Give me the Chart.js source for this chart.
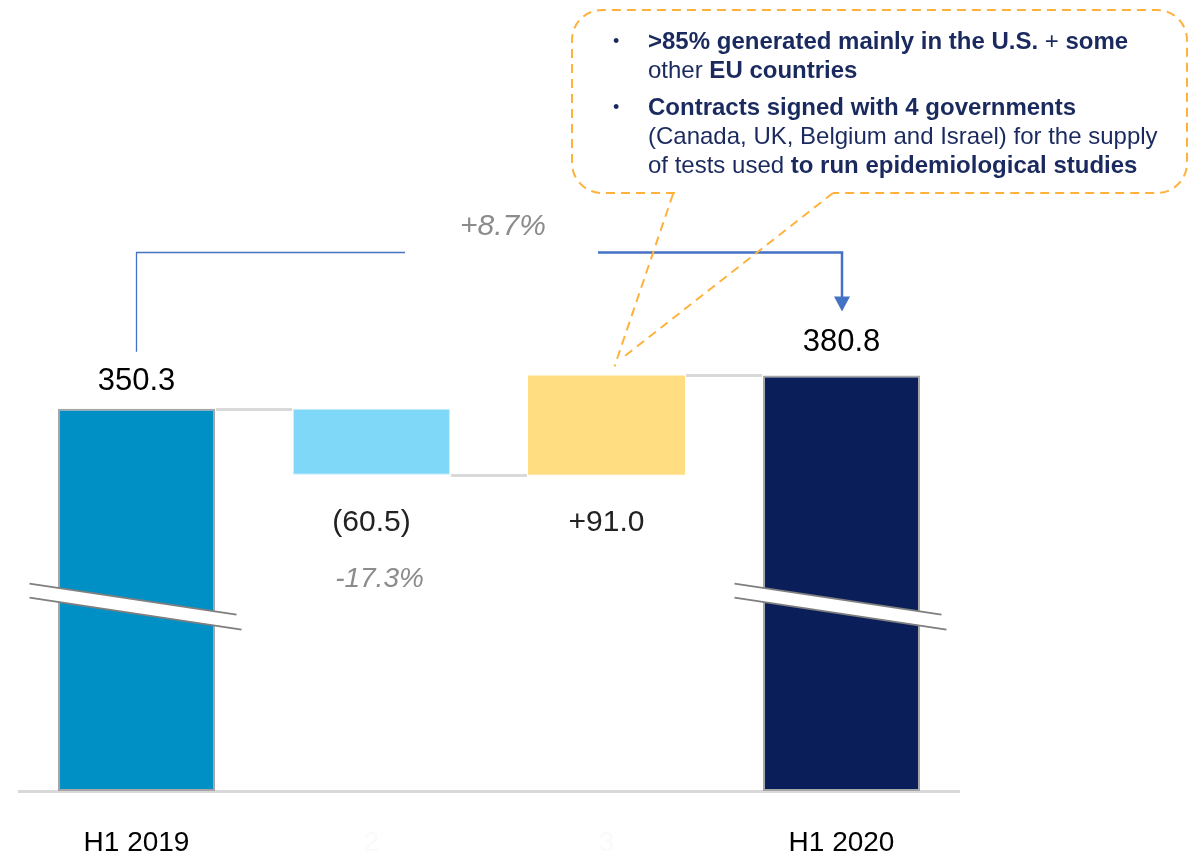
<!DOCTYPE html>
<html>
<head>
<meta charset="utf-8">
<script src="https://cdn.jsdelivr.net/npm/chart.js@4"></script>
<style>
  html, body { margin: 0; padding: 0; background: #fff; }
  canvas { display: block; }
</style>
</head>
<body>
<canvas id="waterfall" width="1191" height="859"></canvas>
<script>
// chart data
const categories = ['H1 2019', '2', '3', 'H1 2020'];
const startValue = 350.3;
const changes = [-60.5, 91.0];
const endValue = 380.8;
const valueLabels = ['350.3', '(60.5)', '+91.0', '380.8'];
const changePct = '-17.3%';
const totalPct = '+8.7%';
const barColors = ['#0090C6', '#80D8F8', '#FFDD80', '#0A1F5A'];
const borderColors = ['#A6A6A6', '#C8EEFB', '#FFDD80', '#A6A6A6'];

const FONT = "'Liberation Sans', Arial, sans-serif";
const NAVY = '#1A2A5E';
const ORANGE = '#FFB13B';
const BLUE = '#4472C4';

// floating ranges for the waterfall + connector levels
const ranges = [[0, startValue]];
const levels = [startValue];
let running = startValue;
changes.forEach(c => {
  const next = running + c;
  ranges.push([Math.min(running, next), Math.max(running, next)]);
  running = next;
  levels.push(running);
});
ranges.push([0, endValue]);

const callout = [
  { bullet: true, runs: [['b', '>85% generated mainly in the U.S.'], ['n', ' + '], ['b', 'some']] },
  { runs: [['n', 'other '], ['b', 'EU countries']] },
  { bullet: true, runs: [['b', 'Contracts signed with 4 governments']] },
  { runs: [['n', '(Canada, UK, Belgium and Israel) for the supply']] },
  { runs: [['n', 'of tests used '], ['b', 'to run epidemiological studies']] },
];
const calloutY = [42, 71, 108, 137, 166];

function text(ctx, str, x, y, size, color, style) {
  ctx.font = (style || '') + ' ' + size + 'px ' + FONT;
  ctx.fillStyle = color;
  ctx.textAlign = 'center';
  ctx.textBaseline = 'middle';
  ctx.fillText(str, x, y);
}

const decor = {
  id: 'decor',
  afterDatasetsDraw(chart) {
    const ctx = chart.ctx;
    const y = chart.scales.y;
    const bars = chart.getDatasetMeta(0).data;
    ctx.save();

    // connectors between bars
    ctx.strokeStyle = '#D9D9D9';
    ctx.lineWidth = 3;
    levels.forEach((v, i) => {
      const a = bars[i], b = bars[i + 1];
      const py = Math.round(y.getPixelForValue(v)) + 0.5;
      ctx.beginPath();
      ctx.moveTo(a.x + a.width / 2 + 1, py);
      ctx.lineTo(b.x - b.width / 2 - 1, py);
      ctx.stroke();
    });

    // axis break marks on the total bars
    [0, 3].forEach(i => {
      const b = bars[i];
      const y0 = y.getPixelForValue(190);
      const x1 = b.x - 107, x2 = b.x + 102;
      const drop = 31, gap = 14;
      ctx.fillStyle = '#fff';
      ctx.beginPath();
      ctx.moveTo(x1, y0);
      ctx.lineTo(x2, y0 + drop);
      ctx.lineTo(x2, y0 + drop + gap);
      ctx.lineTo(x1, y0 + gap);
      ctx.closePath();
      ctx.fill();
      ctx.strokeStyle = '#7F7F7F';
      ctx.lineWidth = 2;
      ctx.beginPath();
      ctx.moveTo(x1, y0);
      ctx.lineTo(x2 - 2, y0 + drop);
      ctx.moveTo(x1, y0 + gap);
      ctx.lineTo(x2 + 3, y0 + drop + gap + 1);
      ctx.stroke();
    });
    ctx.restore();
  },
  afterDraw(chart) {
    const ctx = chart.ctx;
    const bars = chart.getDatasetMeta(0).data;
    ctx.save();

    // value labels
    text(ctx, valueLabels[0], bars[0].x, bars[0].y - 27, 31, '#000');
    text(ctx, valueLabels[1], bars[1].x, bars[1].base + 48, 30, '#222');
    text(ctx, changePct, bars[1].x + 8, bars[1].base + 104, 28, '#8C8C8C', 'italic');
    text(ctx, valueLabels[2], bars[2].x, bars[2].base + 48, 30, '#222');
    text(ctx, valueLabels[3], bars[3].x, bars[3].y - 33, 31, '#000');

    // growth bracket
    const by = 252.5;
    ctx.strokeStyle = BLUE;
    ctx.lineWidth = 1.3;
    ctx.beginPath();
    ctx.moveTo(Math.round(bars[0].x) - 0.5, bars[0].y - 57);
    ctx.lineTo(Math.round(bars[0].x) - 0.5, by);
    ctx.lineTo(405, by);
    ctx.stroke();
    ctx.lineWidth = 2.5;
    const ax = Math.round(bars[3].x);
    ctx.beginPath();
    ctx.moveTo(598, by);
    ctx.lineTo(ax, by);
    ctx.lineTo(ax, bars[3].y - 76);
    ctx.stroke();
    ctx.fillStyle = BLUE;
    ctx.beginPath();
    ctx.moveTo(ax - 8, bars[3].y - 79);
    ctx.lineTo(ax + 8, bars[3].y - 79);
    ctx.lineTo(ax, bars[3].y - 64);
    ctx.closePath();
    ctx.fill();
    text(ctx, totalPct, 503, 227, 30, '#8C8C8C', 'italic');

    // callout box
    ctx.strokeStyle = ORANGE;
    ctx.lineWidth = 2;
    ctx.setLineDash([9, 6]);
    const L = 572, T = 10, R = 1187, B = 193, r = 30;
    ctx.beginPath();
    ctx.moveTo(675, B);
    ctx.lineTo(L + r, B);
    ctx.arcTo(L, B, L, B - r, r);
    ctx.lineTo(L, T + r);
    ctx.arcTo(L, T, L + r, T, r);
    ctx.lineTo(R - r, T);
    ctx.arcTo(R, T, R, T + r, r);
    ctx.lineTo(R, B - r);
    ctx.arcTo(R, B, R - r, B, r);
    ctx.lineTo(833, B);
    ctx.stroke();
    const tipX = bars[2].x + 10, tipY = bars[2].y - 12;
    ctx.beginPath();
    ctx.moveTo(673, B + 1);
    ctx.lineTo(tipX - 2, tipY + 3);
    ctx.moveTo(833, B);
    ctx.lineTo(tipX + 4, tipY - 4);
    ctx.stroke();
    ctx.setLineDash([]);

    // callout text
    ctx.textAlign = 'left';
    ctx.textBaseline = 'middle';
    ctx.fillStyle = NAVY;
    callout.forEach((line, i) => {
      const ly = calloutY[i];
      if (line.bullet) {
        ctx.font = '18px ' + FONT;
        ctx.fillText('•', 613, ly);
      }
      let x = 648;
      line.runs.forEach(([w, s]) => {
        ctx.font = (w === 'b' ? 'bold ' : '') + '24px ' + FONT;
        ctx.fillText(s, x, ly);
        x += ctx.measureText(s).width;
      });
    });
    ctx.restore();
  }
};

new Chart(document.getElementById('waterfall'), {
  type: 'bar',
  data: {
    labels: categories,
    datasets: [{
      data: ranges,
      backgroundColor: barColors,
      borderColor: borderColors,
      borderWidth: [2, 1, 0, 2],
      borderSkipped: false,
      barPercentage: 0.668,
      categoryPercentage: 1,
    }],
  },
  options: {
    responsive: false,
    animation: false,
    layout: { padding: { left: 19, right: 232, top: 27, bottom: 0 } },
    plugins: {
      legend: { display: false },
      tooltip: { enabled: false },
    },
    scales: {
      x: {
        grid: { display: false, drawTicks: false },
        border: { display: true, color: '#D9D9D9', width: 3 },
        ticks: {
          padding: 35,
          font: { size: 28, family: FONT },
          color: (c) => (c.index === 0 || c.index === 3 ? '#000' : '#FAFAFA'),
        },
        afterFit: (s) => { s.height = 68; },
      },
      y: {
        display: false,
        min: 0,
        max: 700,
      },
    },
  },
  plugins: [decor],
});
</script>
</body>
</html>
